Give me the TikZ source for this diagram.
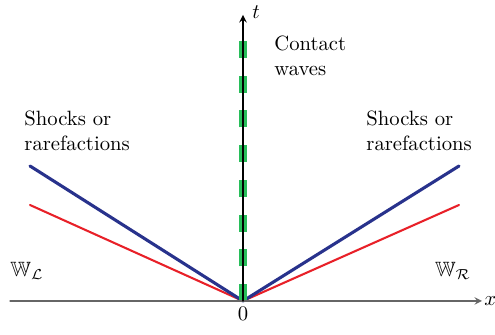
\documentclass[tikz,border=0pt]{standalone}
\usepackage{amssymb}
\usetikzlibrary{arrows}

\definecolor{shockblue}{RGB}{40,50,140}
\definecolor{shockred}{RGB}{232,32,40}
\definecolor{contactgreen}{RGB}{40,190,90}

\begin{document}
\begin{tikzpicture}[x=0.017cm,y=0.017cm,line cap=round,line join=round,>=stealth]
  \useasboundingbox (-243,-34) rectangle (252,301);

  % Points
  \coordinate (O) at (0,0);
  \coordinate (xl) at (-233,0);
  \coordinate (xr) at (239,0);
  \coordinate (ttop) at (0,286);
  \coordinate (bl) at (-213,135);
  \coordinate (br) at (216,135);
  \coordinate (rl) at (-213,96);
  \coordinate (rr) at (216,96);
  \coordinate (ctop) at (0,262);

  % Waves
  \draw[shockred,line width=1pt] (O) -- (rl);
  \draw[shockred,line width=1pt] (O) -- (rr);
  \draw[shockblue,line width=1.5pt] (O) -- (bl);
  \draw[shockblue,line width=1.5pt] (O) -- (br);
  \draw[contactgreen,line width=3.4pt,line cap=butt,dash pattern=on 8.2pt off 8.6pt] (O) -- (ctop);

  % Axes
  \draw[->,gray!80!black,line width=0.6pt] (xl) -- (xr);
  \draw[->,line width=0.6pt] (O) -- (ttop);
  \node[anchor=west,inner sep=0.5pt] (xlab) at (240,0) {$x$};
  \node[anchor=west,inner sep=0pt] (tlab) at (9,289) {$t$};

  % Labels
  \node[below,inner sep=3pt] (zero) at (O) {$0$};
  \node (wl) at (-216,30) {$\mathbb{W}_{\mathcal{L}}$};
  \node (wr) at (210,30) {$\mathbb{W}_{\mathcal{R}}$};
  \node[align=left,anchor=north west,inner sep=0pt] (cw) at (31,265) {Contact\\waves};
  \node[align=left,anchor=north west,inner sep=0pt] (sl) at (-219,190) {Shocks or\\rarefactions};
  \node[align=left,anchor=north west,inner sep=0pt] (sr) at (123,190) {Shocks or\\rarefactions};
\end{tikzpicture}
\end{document}
